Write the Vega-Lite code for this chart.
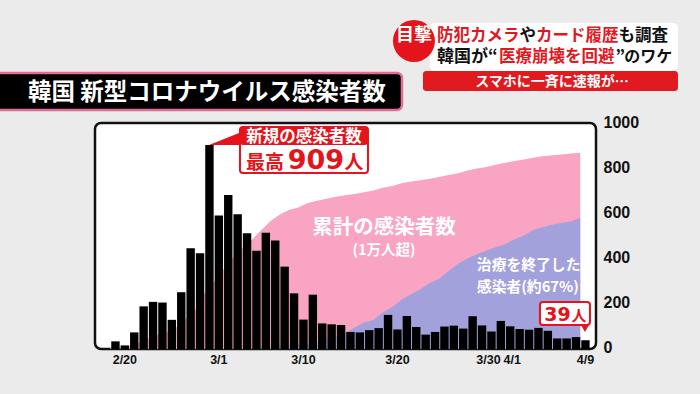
{
  "$schema": "https://vega.github.io/schema/vega-lite/v6.json",
  "width": 501,
  "height": 226,
  "autosize": "none",
  "padding": {"left": 95, "top": 123, "right": 104, "bottom": 45},
  "background": "#ebebeb",
  "config": {
    "view": {"fill": "white", "stroke": "#111111", "strokeWidth": 2.5, "cornerRadius": 6},
    "text": {"font": "Noto Sans CJK JP", "fontWeight": "bold"}
  },
  "datasets": {
    "korea": [
      {"date": "2020-02-19", "new": 34, "cum": 66, "rec": 12},
      {"date": "2020-02-20", "new": 16, "cum": 82, "rec": 16},
      {"date": "2020-02-21", "new": 74, "cum": 156, "rec": 16},
      {"date": "2020-02-22", "new": 190, "cum": 346, "rec": 16},
      {"date": "2020-02-23", "new": 210, "cum": 556, "rec": 18},
      {"date": "2020-02-24", "new": 207, "cum": 763, "rec": 18},
      {"date": "2020-02-25", "new": 130, "cum": 893, "rec": 22},
      {"date": "2020-02-26", "new": 253, "cum": 1146, "rec": 22},
      {"date": "2020-02-27", "new": 449, "cum": 1595, "rec": 22},
      {"date": "2020-02-28", "new": 427, "cum": 2022, "rec": 22},
      {"date": "2020-02-29", "new": 909, "cum": 2931, "rec": 27},
      {"date": "2020-03-01", "new": 595, "cum": 3526, "rec": 28},
      {"date": "2020-03-02", "new": 686, "cum": 4212, "rec": 30},
      {"date": "2020-03-03", "new": 600, "cum": 4812, "rec": 30},
      {"date": "2020-03-04", "new": 516, "cum": 5328, "rec": 31},
      {"date": "2020-03-05", "new": 438, "cum": 5766, "rec": 41},
      {"date": "2020-03-06", "new": 518, "cum": 6284, "rec": 108},
      {"date": "2020-03-07", "new": 483, "cum": 6767, "rec": 118},
      {"date": "2020-03-08", "new": 367, "cum": 7134, "rec": 135},
      {"date": "2020-03-09", "new": 248, "cum": 7382, "rec": 166},
      {"date": "2020-03-10", "new": 131, "cum": 7513, "rec": 247},
      {"date": "2020-03-11", "new": 242, "cum": 7755, "rec": 288},
      {"date": "2020-03-12", "new": 114, "cum": 7869, "rec": 333},
      {"date": "2020-03-13", "new": 110, "cum": 7979, "rec": 510},
      {"date": "2020-03-14", "new": 107, "cum": 8086, "rec": 714},
      {"date": "2020-03-15", "new": 76, "cum": 8162, "rec": 834},
      {"date": "2020-03-16", "new": 74, "cum": 8236, "rec": 1137},
      {"date": "2020-03-17", "new": 84, "cum": 8320, "rec": 1401},
      {"date": "2020-03-18", "new": 93, "cum": 8413, "rec": 1540},
      {"date": "2020-03-19", "new": 152, "cum": 8565, "rec": 1947},
      {"date": "2020-03-20", "new": 87, "cum": 8652, "rec": 2233},
      {"date": "2020-03-21", "new": 147, "cum": 8799, "rec": 2612},
      {"date": "2020-03-22", "new": 98, "cum": 8897, "rec": 2909},
      {"date": "2020-03-23", "new": 64, "cum": 8961, "rec": 3166},
      {"date": "2020-03-24", "new": 76, "cum": 9037, "rec": 3507},
      {"date": "2020-03-25", "new": 100, "cum": 9137, "rec": 3730},
      {"date": "2020-03-26", "new": 104, "cum": 9241, "rec": 4144},
      {"date": "2020-03-27", "new": 91, "cum": 9332, "rec": 4528},
      {"date": "2020-03-28", "new": 146, "cum": 9478, "rec": 4811},
      {"date": "2020-03-29", "new": 105, "cum": 9583, "rec": 5033},
      {"date": "2020-03-30", "new": 78, "cum": 9661, "rec": 5228},
      {"date": "2020-03-31", "new": 125, "cum": 9786, "rec": 5408},
      {"date": "2020-04-01", "new": 101, "cum": 9887, "rec": 5567},
      {"date": "2020-04-02", "new": 89, "cum": 9976, "rec": 5828},
      {"date": "2020-04-03", "new": 86, "cum": 10062, "rec": 6021},
      {"date": "2020-04-04", "new": 94, "cum": 10156, "rec": 6325},
      {"date": "2020-04-05", "new": 81, "cum": 10237, "rec": 6463},
      {"date": "2020-04-06", "new": 47, "cum": 10284, "rec": 6598},
      {"date": "2020-04-07", "new": 47, "cum": 10331, "rec": 6694},
      {"date": "2020-04-08", "new": 53, "cum": 10384, "rec": 6776},
      {"date": "2020-04-09", "new": 39, "cum": 10423, "rec": 6973}
    ]
  },
  "layer": [
    {
      "data": {"name": "korea"},
      "encoding": {
        "x": {"field": "date", "timeUnit": "utcyearmonthdate", "type": "temporal", "bandPosition": 0.5,
          "scale": {"domain": [{"year": 2020, "month": 2, "date": 17, "hours": 9, "minutes": 4, "utc": true}, {"year": 2020, "month": 4, "date": 10, "hours": 16, "minutes": 13, "utc": true}]}}
      },
      "layer": [
        {"mark": {"type": "area", "color": "#f8a4c2", "opacity": 1},
         "encoding": {"y": {"field": "cum", "type": "quantitative", "scale": {"domain": [0, 12000], "nice": false}, "axis": null}}},
        {"mark": {"type": "area", "color": "#a3a1db", "opacity": 1},
         "encoding": {"y": {"field": "rec", "type": "quantitative", "scale": {"domain": [0, 12000], "nice": false}, "axis": null}}}
      ]
    },
    {
      "layer": [
        {
          "data": {"name": "korea"},
          "mark": {"type": "bar", "color": "#000000", "timeUnitBandSize": 0.7},
          "encoding": {
            "x": {"field": "date", "timeUnit": "utcyearmonthdate", "type": "temporal",
              "scale": {"domain": [{"year": 2020, "month": 2, "date": 17, "hours": 9, "minutes": 4, "utc": true}, {"year": 2020, "month": 4, "date": 10, "hours": 16, "minutes": 13, "utc": true}]},
              "axis": {"title": null, "format": "%-m/%-d", "domain": false, "ticks": false, "tickSize": 0, "grid": false,
                "values": [
                  {"year": 2020, "month": 2, "date": 20, "hours": 12, "utc": true},
                  {"year": 2020, "month": 3, "date": 1, "hours": 12, "utc": true},
                  {"year": 2020, "month": 3, "date": 10, "hours": 12, "utc": true},
                  {"year": 2020, "month": 3, "date": 20, "hours": 12, "utc": true},
                  {"year": 2020, "month": 3, "date": 30, "hours": 12, "utc": true},
                  {"year": 2020, "month": 4, "date": 1, "hours": 12, "utc": true},
                  {"year": 2020, "month": 4, "date": 9, "hours": 12, "utc": true}
                ],
                "labelFont": "Liberation Sans", "labelFontWeight": "bold", "labelFontSize": 12.5,
                "labelOffset": {"condition": [{"test": "datum.label == '3/30'", "value": -3}, {"test": "datum.label == '4/1'", "value": 2}], "value": 0},
                "labelColor": "#111111", "labelPadding": 4, "labelFlush": false, "labelOverlap": false}},
            "y": {"field": "new", "type": "quantitative", "scale": {"domain": [0, 1007], "nice": false},
              "axis": {"title": null, "orient": "right", "values": [0, 200, 400, 600, 800, 1000], "format": "d", "domain": false, "ticks": false, "tickSize": 0, "grid": false,
                "labelFont": "Liberation Sans", "labelFontWeight": "bold", "labelFontSize": 16, "labelColor": "#111111",
                "labelPadding": 7, "labelAlign": "left", "labelOffset": -2, "labelFlush": false}}
          }
        },
        {"data": {"values": [{}]}, "mark": {"type": "text", "text": "累計の感染者数", "fontSize": 20.5, "fill": "white", "align": "center", "baseline": "middle"},
         "encoding": {"x": {"datum": {"year": 2020, "month": 3, "date": 19, "hours": 2, "minutes": 48, "utc": true}, "type": "temporal"}, "y": {"datum": 541.3, "type": "quantitative"}}},
        {"data": {"values": [{}]}, "mark": {"type": "text", "text": "(1万人超)", "fontSize": 14.5, "fill": "white", "align": "center", "baseline": "middle"},
         "encoding": {"x": {"datum": {"year": 2020, "month": 3, "date": 19, "hours": 3, "utc": true}, "type": "temporal"}, "y": {"datum": 436.7, "type": "quantitative"}}},
        {"data": {"values": [{}]}, "mark": {"type": "text", "text": "治療を終了した", "fontSize": 14.8, "fill": "white", "align": "left", "baseline": "middle"},
         "encoding": {"x": {"datum": {"year": 2020, "month": 3, "date": 29, "hours": 0, "utc": true}, "type": "temporal"}, "y": {"datum": 367.6, "type": "quantitative"}}},
        {"data": {"values": [{}]}, "mark": {"type": "text", "text": "感染者(約67%)", "fontSize": 14.8, "fill": "white", "align": "left", "baseline": "middle"},
         "encoding": {"x": {"datum": {"year": 2020, "month": 3, "date": 29, "hours": 0, "utc": true}, "type": "temporal"}, "y": {"datum": 269.6, "type": "quantitative"}}},
        {"data": {"values": [{}]}, "mark": {"type": "rect", "fill": "white", "stroke": "#e3141b", "strokeWidth": 2, "cornerRadius": 3},
         "encoding": {"x": {"datum": {"year": 2020, "month": 3, "date": 3, "hours": 19, "minutes": 12, "utc": true}, "type": "temporal"}, "x2": {"datum": {"year": 2020, "month": 3, "date": 17, "hours": 10, "utc": true}},
           "y": {"datum": 989.2, "type": "quantitative"}, "y2": {"datum": 784.2}}},
        {"data": {"values": [{}]}, "mark": {"type": "rect", "fill": "#e3141b", "cornerRadius": 3},
         "encoding": {"x": {"datum": {"year": 2020, "month": 3, "date": 3, "hours": 19, "minutes": 12, "utc": true}, "type": "temporal"}, "x2": {"datum": {"year": 2020, "month": 3, "date": 17, "hours": 10, "utc": true}},
           "y": {"datum": 989.2, "type": "quantitative"}, "y2": {"datum": 909}}},
        {"data": {"values": [{}]}, "mark": {"type": "point", "shape": "M 0 0 L 2 -0.8 L 2 0 Z", "size": 1024, "filled": true, "color": "#e3141b", "opacity": 1},
         "encoding": {"x": {"datum": {"year": 2020, "month": 2, "date": 29, "hours": 12, "utc": true}, "type": "temporal"}, "y": {"datum": 909, "type": "quantitative"}}},
        {"data": {"values": [{}]}, "mark": {"type": "text", "text": "新規の感染者数", "fontSize": 16.5, "fill": "white", "align": "center", "baseline": "middle"},
         "encoding": {"x": {"datum": {"year": 2020, "month": 3, "date": 10, "hours": 14, "minutes": 36, "utc": true}, "type": "temporal"}, "y": {"datum": 946.8, "type": "quantitative"}}},
        {"data": {"values": [{}]}, "mark": {"type": "text", "text": "最高", "fontSize": 19, "fill": "#e3141b", "align": "center", "baseline": "alphabetic"},
         "encoding": {"x": {"datum": {"year": 2020, "month": 3, "date": 6, "hours": 11, "utc": true}, "type": "temporal"}, "y": {"datum": 802, "type": "quantitative"}}},
        {"data": {"values": [{}]}, "mark": {"type": "text", "text": "909", "font": "DejaVu Sans", "fontSize": 27, "fill": "#e3141b", "align": "center", "baseline": "alphabetic"},
         "encoding": {"x": {"datum": {"year": 2020, "month": 3, "date": 11, "hours": 21, "minutes": 12, "utc": true}, "type": "temporal"}, "y": {"datum": 802, "type": "quantitative"}}},
        {"data": {"values": [{}]}, "mark": {"type": "text", "text": "人", "fontSize": 19, "fill": "#e3141b", "align": "center", "baseline": "alphabetic"},
         "encoding": {"x": {"datum": {"year": 2020, "month": 3, "date": 15, "hours": 22, "minutes": 12, "utc": true}, "type": "temporal"}, "y": {"datum": 802, "type": "quantitative"}}},
        {"data": {"values": [{}]}, "mark": {"type": "rect", "fill": "white", "stroke": "#e3141b", "strokeWidth": 2, "cornerRadius": 3},
         "encoding": {"x": {"datum": {"year": 2020, "month": 4, "date": 4, "hours": 17, "minutes": 6, "utc": true}, "type": "temporal"}, "x2": {"datum": {"year": 2020, "month": 4, "date": 10, "hours": 0, "minutes": 48, "utc": true}},
           "y": {"datum": 209.4, "type": "quantitative"}, "y2": {"datum": 106.9}}},
        {"data": {"values": [{}]}, "mark": {"type": "point", "shape": "M 0 0 L -1 -1.75 L 1 -1.75 Z", "size": 64, "filled": true, "color": "#e3141b", "opacity": 1},
         "encoding": {"x": {"datum": {"year": 2020, "month": 4, "date": 9, "hours": 12, "utc": true}, "type": "temporal"}, "y": {"datum": 75.7, "type": "quantitative"}}},
        {"data": {"values": [{}]}, "mark": {"type": "text", "text": "39", "font": "DejaVu Sans", "fontSize": 19, "fill": "#e3141b", "align": "center", "baseline": "alphabetic"},
         "encoding": {"x": {"datum": {"year": 2020, "month": 4, "date": 6, "hours": 13, "minutes": 48, "utc": true}, "type": "temporal"}, "y": {"datum": 124.8, "type": "quantitative"}}},
        {"data": {"values": [{}]}, "mark": {"type": "text", "text": "人", "fontSize": 15, "fill": "#e3141b", "align": "center", "baseline": "alphabetic"},
         "encoding": {"x": {"datum": {"year": 2020, "month": 4, "date": 8, "hours": 20, "minutes": 42, "utc": true}, "type": "temporal"}, "y": {"datum": 124.8, "type": "quantitative"}}},
        {"data": {"values": [{}]}, "mark": {"type": "rect", "fill": "#000000", "stroke": "#e46b98", "strokeWidth": 2.5, "cornerRadius": 5},
         "encoding": {"x": {"datum": {"year": 2020, "month": 2, "date": 6, "hours": 17, "minutes": 36, "utc": true}, "type": "temporal"}, "x2": {"datum": {"year": 2020, "month": 3, "date": 21, "hours": 0, "minutes": 48, "utc": true}},
           "y": {"datum": 1229.8, "type": "quantitative"}, "y2": {"datum": 1064.9}}},
        {"data": {"values": [{}]}, "mark": {"type": "text", "text": "韓国 新型コロナウイルス感染者数", "fontSize": 23.5, "fill": "white", "align": "left", "baseline": "middle"},
         "encoding": {"x": {"datum": {"year": 2020, "month": 2, "date": 10, "hours": 5, "minutes": 54, "utc": true}, "type": "temporal"}, "y": {"datum": 1140.7, "type": "quantitative"}}},
        {"data": {"values": [{}]}, "mark": {"type": "rect", "fill": "white", "cornerRadius": 5},
         "encoding": {"x": {"datum": {"year": 2020, "month": 3, "date": 24, "hours": 0, "minutes": 18, "utc": true}, "type": "temporal"}, "x2": {"datum": {"year": 2020, "month": 4, "date": 19, "hours": 9, "minutes": 30, "utc": true}},
           "y": {"datum": 1452.6, "type": "quantitative"}, "y2": {"datum": 1238.7}}},
        {"data": {"values": [{}]}, "mark": {"type": "rect", "fill": "#e01a1f", "cornerRadius": 3},
         "encoding": {"x": {"datum": {"year": 2020, "month": 3, "date": 23, "hours": 6, "minutes": 24, "utc": true}, "type": "temporal"}, "x2": {"datum": {"year": 2020, "month": 4, "date": 19, "hours": 9, "minutes": 30, "utc": true}},
           "y": {"datum": 1238.7, "type": "quantitative"}, "y2": {"datum": 1149.6}}},
        {"data": {"values": [{}]}, "mark": {"type": "point", "shape": "circle", "size": 1764, "filled": true, "color": "#e3141b", "opacity": 1},
         "encoding": {"x": {"datum": {"year": 2020, "month": 3, "date": 22, "hours": 7, "minutes": 24, "utc": true}, "type": "temporal"}, "y": {"datum": 1372.4, "type": "quantitative"}}},
        {"data": {"values": [{}]}, "mark": {"type": "text", "text": "目撃", "fontSize": 18, "fill": "white", "align": "center", "baseline": "middle"},
         "encoding": {"x": {"datum": {"year": 2020, "month": 3, "date": 22, "hours": 7, "minutes": 24, "utc": true}, "type": "temporal"}, "y": {"datum": 1396.0, "type": "quantitative"}}},
        {"data": {"values": [{}]}, "mark": {"type": "text", "text": "防犯カメラ", "fontSize": 16.5, "fill": "#e3171e", "align": "left", "baseline": "middle"},
         "encoding": {"x": {"datum": {"year": 2020, "month": 3, "date": 24, "hours": 18, "minutes": 6, "utc": true}, "type": "temporal"}, "y": {"datum": 1396.0, "type": "quantitative"}}},
        {"data": {"values": [{}]}, "mark": {"type": "text", "text": "や", "fontSize": 16.5, "fill": "#111111", "align": "left", "baseline": "middle"},
         "encoding": {"x": {"datum": {"year": 2020, "month": 4, "date": 2, "hours": 12, "minutes": 48, "utc": true}, "type": "temporal"}, "y": {"datum": 1396.0, "type": "quantitative"}}},
        {"data": {"values": [{}]}, "mark": {"type": "text", "text": "カード履歴", "fontSize": 16.5, "fill": "#e3171e", "align": "left", "baseline": "middle"},
         "encoding": {"x": {"datum": {"year": 2020, "month": 4, "date": 4, "hours": 6, "minutes": 54, "utc": true}, "type": "temporal"}, "y": {"datum": 1396.0, "type": "quantitative"}}},
        {"data": {"values": [{}]}, "mark": {"type": "text", "text": "も調査", "fontSize": 16.5, "fill": "#111111", "align": "left", "baseline": "middle"},
         "encoding": {"x": {"datum": {"year": 2020, "month": 4, "date": 13, "hours": 1, "minutes": 30, "utc": true}, "type": "temporal"}, "y": {"datum": 1396.0, "type": "quantitative"}}},
        {"data": {"values": [{}]}, "mark": {"type": "text", "text": "韓国が“", "fontSize": 17, "fill": "#111111", "align": "left", "baseline": "middle"},
         "encoding": {"x": {"datum": {"year": 2020, "month": 3, "date": 24, "hours": 18, "minutes": 6, "utc": true}, "type": "temporal"}, "y": {"datum": 1302.4, "type": "quantitative"}}},
        {"data": {"values": [{}]}, "mark": {"type": "text", "text": "医療崩壊を回避", "fontSize": 16.5, "fill": "#e3171e", "align": "left", "baseline": "middle"},
         "encoding": {"x": {"datum": {"year": 2020, "month": 3, "date": 31, "hours": 8, "minutes": 24, "utc": true}, "type": "temporal"}, "y": {"datum": 1302.4, "type": "quantitative"}}},
        {"data": {"values": [{}]}, "mark": {"type": "text", "text": "”", "fontSize": 16.5, "fill": "#111111", "align": "left", "baseline": "middle"},
         "encoding": {"x": {"datum": {"year": 2020, "month": 4, "date": 12, "hours": 17, "minutes": 54, "utc": true}, "type": "temporal"}, "y": {"datum": 1302.4, "type": "quantitative"}}},
        {"data": {"values": [{}]}, "mark": {"type": "text", "text": "のワケ", "fontSize": 16, "fill": "#111111", "align": "right", "baseline": "middle"},
         "encoding": {"x": {"datum": {"year": 2020, "month": 4, "date": 18, "hours": 19, "utc": true}, "type": "temporal"}, "y": {"datum": 1302.4, "type": "quantitative"}}},
        {"data": {"values": [{}]}, "mark": {"type": "text", "text": "スマホに一斉に速報が…", "fontSize": 14, "fill": "white", "align": "center", "baseline": "middle"},
         "encoding": {"x": {"datum": {"year": 2020, "month": 4, "date": 5, "hours": 23, "minutes": 42, "utc": true}, "type": "temporal"}, "y": {"datum": 1191.9, "type": "quantitative"}}}
      ]
    }
  ],
  "resolve": {"scale": {"y": "independent"}}
}
